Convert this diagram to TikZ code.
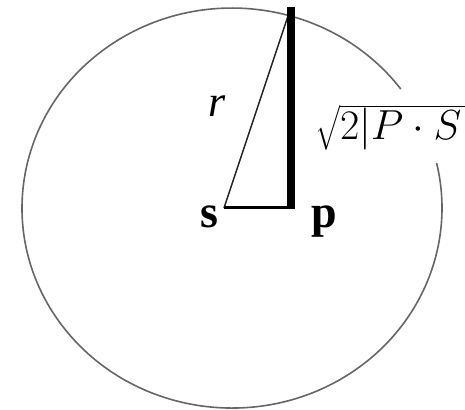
\RequirePackage{fix-cm}
\documentclass[tikz,border=0pt]{standalone}
\usepackage{amsmath}
\usepackage{fontspec}
\setmainfont{Liberation Serif}
\begin{document}
\begin{tikzpicture}[x=1pt,y=1pt,
  circ/.style={draw=black!60, line width=1.6pt},
  radline/.style={draw=black!85, line width=1.5pt},
  baseline seg/.style={draw=black, line width=3pt},
  heavy/.style={draw=black, line width=8pt},
  lbl/.style={inner sep=0pt, anchor=base}]
\useasboundingbox (0,0) rectangle (465,409);
\clip (0,0) rectangle (465,409);
\coordinate (c) at (232,201);
\coordinate (s) at (224,201);
\coordinate (p) at (291,201);
\coordinate (pb) at (291,199.5);
\coordinate (t) at (291,402);
\coordinate (q) at (288,393);
% circle with a gap for the label
\draw[circ] (400.8,319.9) arc[start angle=36.5, end angle=373, x radius=210, y radius=200];
% lines
\draw[radline] (s) -- (q);
\draw[baseline seg] (s) -- (p);
\draw[heavy] (pb) -- (t);
% labels
\node[lbl] (sl) at (209,181) {\fontsize{46}{50}\selectfont\bfseries s};
\node[lbl] (pl) at (324,181) {\fontsize{46}{50}\selectfont\bfseries p};
\node[lbl] (rl) at (217,292) {\fontsize{44}{50}\selectfont\itshape r};
\node[inner sep=0pt, anchor=base west] (ql) at (315,269) {\fontsize{42}{48}\selectfont $\sqrt{2|P\cdot S|}$};
\end{tikzpicture}
\end{document}
